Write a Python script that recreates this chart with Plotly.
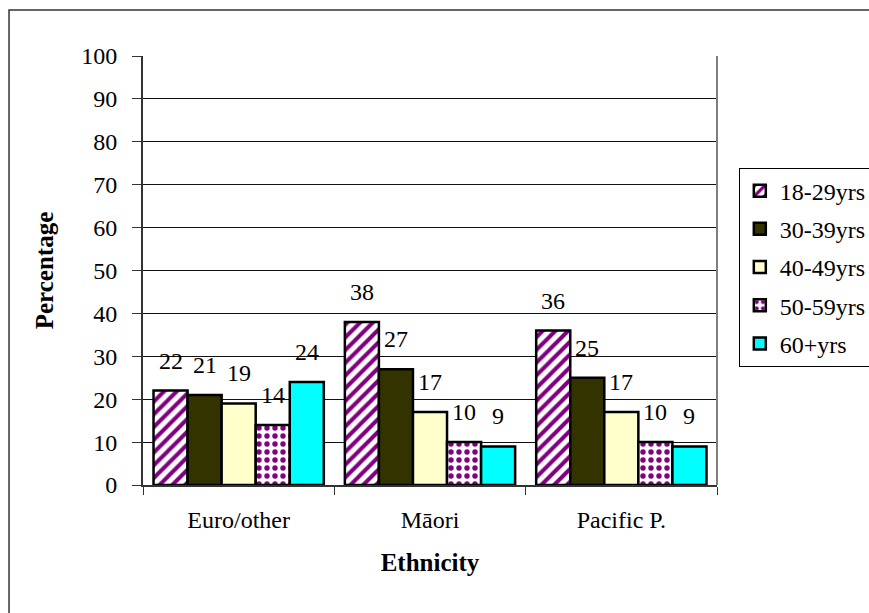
import plotly.graph_objects as go

# Share of respondents in each age band, by ethnicity (%)
ethnicities = ["Euro/other", "Māori", "Pacific P."]
age_groups = ["18-29yrs", "30-39yrs", "40-49yrs", "50-59yrs", "60+yrs"]
pct_18_29 = [22, 38, 36]
pct_30_39 = [21, 27, 25]
pct_40_49 = [19, 17, 17]
pct_50_59 = [14, 10, 10]
pct_60_plus = [24, 9, 9]
series_values = [pct_18_29, pct_30_39, pct_40_49, pct_50_59, pct_60_plus]

FONT = "Liberation Serif"
BAR_GAP = 0.11

# Fill style for each age band
styles = [
    dict(color="white", pattern=dict(shape="/", fgcolor="#800080", bgcolor="white",
                                     fgopacity=1, size=9, solidity=0.45)),
    dict(color="#333300"),
    dict(color="#FFFFCC"),
    dict(color="white", pattern=dict(shape=".", fgcolor="#800080", bgcolor="white",
                                     fgopacity=1, size=8, solidity=0.36)),
    dict(color="#00FFFF"),
]

fig = go.Figure()
for name, vals, st in zip(age_groups, series_values, styles):
    fig.add_trace(go.Bar(
        x=ethnicities, y=vals, name=name, legendgroup=name,
        marker=dict(line=dict(color="black", width=2.5), **st),
    ))

# Value labels sitting above each bar
n = len(age_groups)
slot = (1 - BAR_GAP) / n
annotations = []
for k, vals in enumerate(series_values):
    for gi, v in enumerate(vals):
        annotations.append(dict(
            x=gi + (k - (n - 1) / 2) * slot, y=v, xref="x", yref="y",
            text=str(v), showarrow=False, yshift=30, yanchor="middle",
            font=dict(family=FONT, size=24, color="black"),
        ))

fig.update_layout(
    width=869, height=613,
    margin=dict(l=143, r=152, t=56, b=128, autoexpand=False),
    paper_bgcolor="white", plot_bgcolor="white",
    barmode="group", bargap=BAR_GAP, bargroupgap=0,
    font=dict(family=FONT, size=24, color="black"),
    annotations=annotations,
    legend=dict(
        x=1.038, y=0.74, xanchor="left", yanchor="top",
        bordercolor="black", borderwidth=1, bgcolor="white",
        font=dict(family=FONT, size=24, color="black"),
        traceorder="grouped", tracegroupgap=4,
    ),
    xaxis=dict(
        type="category", tickson="boundaries", ticks="outside", ticklen=8,
        tickcolor="#333333", tickwidth=1,
        showline=True, linecolor="#333333", linewidth=2,
        showgrid=False, ticklabelstandoff=12,
        tickfont=dict(family=FONT, size=24, color="black"),
        title=dict(text="<b>Ethnicity</b>", font=dict(family=FONT, size=25, color="black"), standoff=22),
    ),
    yaxis=dict(
        range=[0, 100], dtick=10, ticks="outside", ticklen=9,
        tickcolor="#333333", tickwidth=1,
        showline=True, linecolor="#333333", linewidth=2,
        showgrid=True, gridcolor="#111111", gridwidth=1,
        zeroline=False, ticklabelstandoff=10,
        tickfont=dict(family=FONT, size=24, color="black"),
        title=dict(text="<b>Percentage</b>", font=dict(family=FONT, size=25, color="black"), standoff=20),
    ),
    shapes=[
        # right edge of the plotting area
        dict(type="line", xref="paper", yref="paper", x0=1, x1=1, y0=0, y1=1,
             line=dict(color="#808080", width=2)),
        # outer chart frame
        dict(type="rect", xref="paper", yref="paper",
             x0=-0.2334, x1=2.0, y0=-1.0, y1=1.1072,
             line=dict(color="#333333", width=1.5), fillcolor="rgba(0,0,0,0)"),
    ],
)

fig.write_html("out.html")
